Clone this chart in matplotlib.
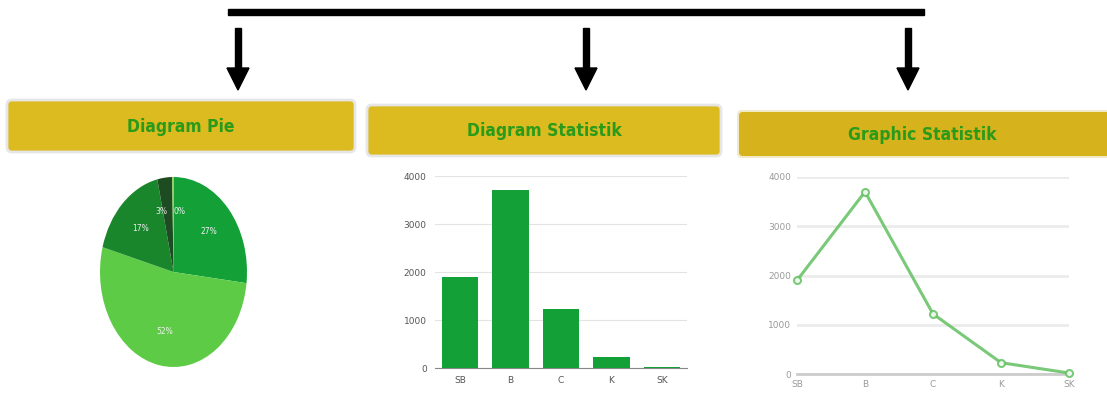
import matplotlib
matplotlib.use("Agg")
import matplotlib.pyplot as plt
from matplotlib.patches import FancyBboxPatch, Polygon, Rectangle

# ---- data ----
categories = ["SB", "B", "C", "K", "SK"]
values = [1900, 3700, 1220, 230, 20]
pie_labels = ["27%", "52%", "17%", "3%", "0%"]
y_ticks = [0, 1000, 2000, 3000, 4000]
titles = ["Diagram Pie", "Diagram Statistik", "Graphic Statistik"]

pie_colors = ["#13a137", "#5ecb47", "#19862c", "#1d4b22", "#8fd14f"]
bar_color = "#13a137"
line_color = "#62c062"
box_color = "#dbbb20"
text_green = "#2a9a1a"

W, H = 1107, 405
fig = plt.figure(figsize=(W / 100, H / 100), dpi=100)
fig.patch.set_facecolor("white")

# overlay for decorations in pixel space
ov = fig.add_axes([0, 0, 1, 1])
ov.set_xlim(0, W)
ov.set_ylim(H, 0)
ov.axis("off")

# top bar
ov.add_patch(Rectangle((228, 9), 696, 6, color="black"))
# arrows
for x in [238, 586, 908]:
    ov.add_patch(Rectangle((x - 3, 28), 6, 42, color="black"))
    ov.add_patch(Polygon([[x - 11, 68], [x + 11, 68], [x, 90]], closed=True, color="black"))

# title boxes
boxes = [(7, 100, 348, 52), (367, 105, 354, 51), (737, 110, 380, 48)]
for (x, y, w, h), t, i in zip(boxes, titles, range(3)):
    if i == 2:
        ov.add_patch(FancyBboxPatch((x, y), w, h, boxstyle="round,pad=0,rounding_size=5",
                                    facecolor="#e8dca0", edgecolor="none", alpha=0.6))
        ov.add_patch(FancyBboxPatch((x + 2, y + 2), w - 4, h - 4, boxstyle="round,pad=0,rounding_size=4",
                                    facecolor="#d6b31c", edgecolor="none"))
    else:
        ov.add_patch(FancyBboxPatch((x, y), w, h, boxstyle="round,pad=0,rounding_size=5",
                                    facecolor=box_color, edgecolor="#e6e6e6", linewidth=2))
    ov.text(x + w / 2 if i < 2 else 922, y + h / 2 + 1, t, ha="center", va="center",
            fontsize=12.5, fontweight="bold", color=text_green,
            family="DejaVu Sans", fontstretch="condensed")

# ---- pie ----
axp = fig.add_axes([100 / W, 1 - 367 / H, 147 / W, 190 / H])
wedges, texts = axp.pie(values, colors=pie_colors, startangle=90, counterclock=False,
                        labels=pie_labels, labeldistance=0.64,
                        textprops=dict(color="#eeeeee", fontsize=5.5))
for t in texts:
    t.set_ha("center")
    t.set_va("center")
texts[3].set_ha("right")
texts[4].set_ha("left")
axp.set_aspect("auto")
axp.set_xlim(-1, 1)
axp.set_ylim(-1, 1)
axp.axis("off")

# ---- bar chart ----
axb = fig.add_axes([435 / W, 1 - 368 / H, 252 / W, 192 / H])
x = list(range(len(categories)))
axb.bar(x, values, width=0.72, color=bar_color, zorder=3)
axb.set_xlim(-0.5, 4.5)
axb.set_ylim(0, 4000)
axb.set_yticks(y_ticks)
axb.set_xticks(x)
axb.set_xticklabels(categories)
axb.grid(axis="y", color="#e3e3e3", linewidth=0.8, zorder=0)
for s in ["top", "right", "left"]:
    axb.spines[s].set_visible(False)
axb.spines["bottom"].set_color("#888888")
axb.tick_params(length=0, labelsize=6.5, colors="#555555", pad=6)

# ---- line chart ----
axl = fig.add_axes([797 / W, 1 - 374 / H, 272 / W, 197 / H])
axl.plot(x, values, color=line_color, linewidth=2.2, marker="o", markersize=5,
         markerfacecolor="white", markeredgecolor=line_color, markeredgewidth=1.5,
         clip_on=False, zorder=3, alpha=0.85)
axl.set_xlim(0, 4)
axl.set_ylim(0, 4000)
axl.set_yticks(y_ticks)
axl.set_xticks(x)
axl.set_xticklabels(categories)
axl.grid(axis="y", color="#ebebeb", linewidth=2.0, zorder=0)
for s in ["top", "right", "left"]:
    axl.spines[s].set_visible(False)
axl.spines["bottom"].set_color("#cccccc")
axl.spines["bottom"].set_linewidth(2)
axl.tick_params(length=0, labelsize=6.5, colors="#9a9a9a", pad=4)

fig.savefig("out.png", dpi=100, facecolor="white")
